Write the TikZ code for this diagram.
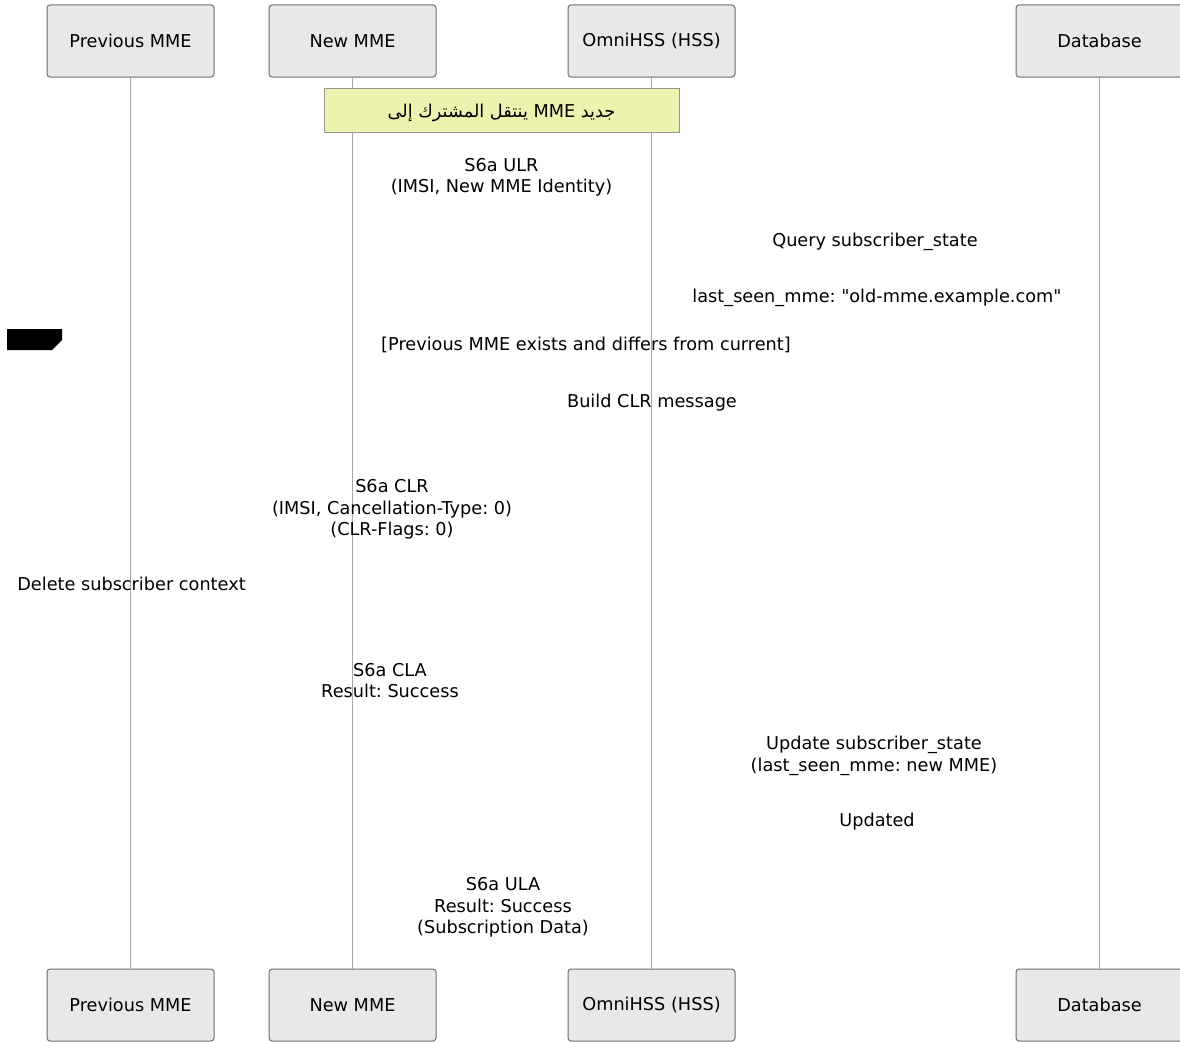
\documentclass[tikz,border=0pt]{standalone}
\usepackage{fontspec}
\setmainfont{DejaVu Sans}[Ligatures=TeXOff]
\newfontfamily\arabicfont[Script=Arabic]{DejaVu Sans}
\TeXXeTstate=1
\frenchspacing
\definecolor{actorfill}{HTML}{E8E8E8}
\definecolor{actordraw}{HTML}{6E6E6E}
\definecolor{notefill}{HTML}{EDF2AE}
\definecolor{notedraw}{HTML}{959595}
\definecolor{lifecol}{HTML}{A6A6A6}
\begin{document}
\begin{tikzpicture}[x=1pt,y=-1pt,
  every node/.style={font=\fontsize{17.7}{21.5}\selectfont\frenchspacing, inner sep=0pt},
  actor/.style={draw=actordraw, fill=actorfill, line width=1pt, rounded corners=3pt,
    minimum width=167pt, minimum height=72pt},
  notebox/.style={draw=notedraw, fill=notefill, line width=1pt,
    minimum width=355pt, minimum height=44pt},
  life/.style={draw=lifecol, line width=1pt},
  msg/.style={align=center}]
\useasboundingbox (0,0) rectangle (1180,1041);
\clip (0,0) rectangle (1180,1041);
% actors
\node[actor] (pt) at (130.5,41) {Previous MME};
\node[actor] (nt) at (352.5,41) {New MME};
\node[actor] (ht) at (651.5,41) {OmniHSS (HSS)};
\node[actor] (dt) at (1099.5,41) {Database};
\node[actor] (pb) at (130.5,1005) {Previous MME};
\node[actor] (nb) at (352.5,1005) {New MME};
\node[actor] (hb) at (651.5,1005) {OmniHSS (HSS)};
\node[actor] (db) at (1099.5,1005) {Database};
% lifelines
\draw[life] (pt.south) -- (pb.north);
\draw[life] (nt.south) -- (nb.north);
\draw[life] (ht.south) -- (hb.north);
\draw[life] (dt.south) -- (db.north);
% note
\node[notebox] (note) at (501.5,110) {};
\node (notetext) at (501.5,112.5) {\arabicfont\beginR جديد \beginL MME\endL{} ينتقل المشترك إلى\endR};
% alt label tab
\fill[black] (7,329) -- (62,329) -- (62,340) -- (52,350) -- (7,350) -- cycle;
% messages
\node[msg] (m1) at (501.5,177.5) {S6a ULR\\(IMSI, New MME Identity)};
\node[msg] (m2) at (875,242) {Query subscriber\_state};
\node[msg] (m3) at (877,298) {last\_seen\_mme: \symbol{34}old-mme.example.com\symbol{34}};
\node[msg] (m4) at (586,345) {[Previous MME exists and differs from current]};
\node[msg] (m5) at (652,403) {Build CLR message};
\node[msg] (m6) at (392,509.5) {S6a CLR\\(IMSI, Cancellation-Type: 0)\\(CLR-Flags: 0)};
\node[msg] (m7) at (131.5,584) {Delete subscriber context};
\node[msg] (m8) at (390,680.5) {S6a CLA\\Result: Success};
\node[msg] (m9) at (874,756) {Update subscriber\_state\\(last\_seen\_mme: new MME)};
\node[msg] (m10) at (877,822) {Updated};
\node[msg] (m11) at (503,907.5) {S6a ULA\\Result: Success\\(Subscription Data)};
\end{tikzpicture}
\end{document}
